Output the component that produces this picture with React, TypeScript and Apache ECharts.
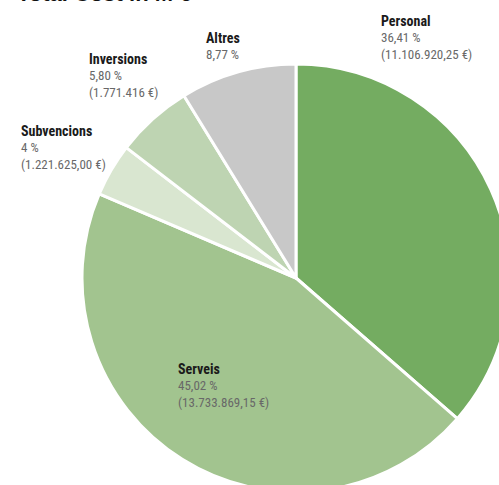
import React, { useEffect, useRef } from "react";
import * as echarts from "echarts";

const titleText = "Total Cost in M €";
const categories = ["Personal", "Serveis", "Subvencions", "Inversions", "Altres"];
const shares = [36.41, 45.02, 4, 5.8, 8.77];
const shareLabels = ["36,41", "45,02", "4", "5,80", "8,77"];
const amountLabels = ["11.106.920,25", "13.733.869,15", "1.221.625,00", "1.771.416", ""];
const colors = ["#74ac61", "#a2c48f", "#d9e6d0", "#bed4b2", "#c8c8c8"];
const labelPos: [number, number][] = [
  [381, 12],
  [178, 360],
  [21, 122],
  [89, 50],
  [206, 29],
];

export default function App() {
  const ref = useRef<HTMLDivElement>(null);
  useEffect(() => {
    if (!ref.current) return;
    const chart = echarts.init(ref.current, undefined, { renderer: "svg" });
    const font = '"Roboto Condensed", "Liberation Sans Narrow", "Liberation Sans", sans-serif';
    chart.setOption({
      animation: false,
      backgroundColor: "#ffffff",
      graphic: [
        {
          type: "text",
          left: 17,
          top: -18,
          style: {
            text: titleText,
            font: 'bold 22px "Liberation Sans", Arial, sans-serif',
            fill: "#111",
          },
        },
      ],
      series: [
        {
          type: "pie",
          center: [296, 278],
          radius: 214,
          startAngle: 90,
          clockwise: true,
          avoidLabelOverlap: false,
          itemStyle: { borderColor: "#ffffff", borderWidth: 3 },
          labelLine: { show: false },
          label: {
            show: true,
            position: "outside",
            fontFamily: font,
            formatter: (p: any) => {
              const i = p.dataIndex;
              let s = `{b|${categories[i]}}\n{v|${shareLabels[i]} %}`;
              if (amountLabels[i]) s += `\n{v|(${amountLabels[i]} €)}`;
              return s;
            },
            rich: {
              b: { fontFamily: font, fontWeight: "bold", fontSize: 14, lineHeight: 17, color: "#1a1a1a" },
              v: { fontFamily: font, fontSize: 13, lineHeight: 17, color: "#686868" },
            },
          },
          labelLayout: (p: any) => {
            const pos = labelPos[p.dataIndex];
            return { x: pos[0], y: pos[1], align: "left", verticalAlign: "top", hideOverlap: false };
          },
          emphasis: { disabled: true },
          data: categories.map((name, i) => ({
            name,
            value: shares[i],
            itemStyle: { color: colors[i] },
          })),
        },
      ],
    });
    return () => chart.dispose();
  }, []);
  return (
    <div
      ref={ref}
      style={{ position: "fixed", left: 0, top: 0, width: 499, height: 485 }}
    />
  );
}
